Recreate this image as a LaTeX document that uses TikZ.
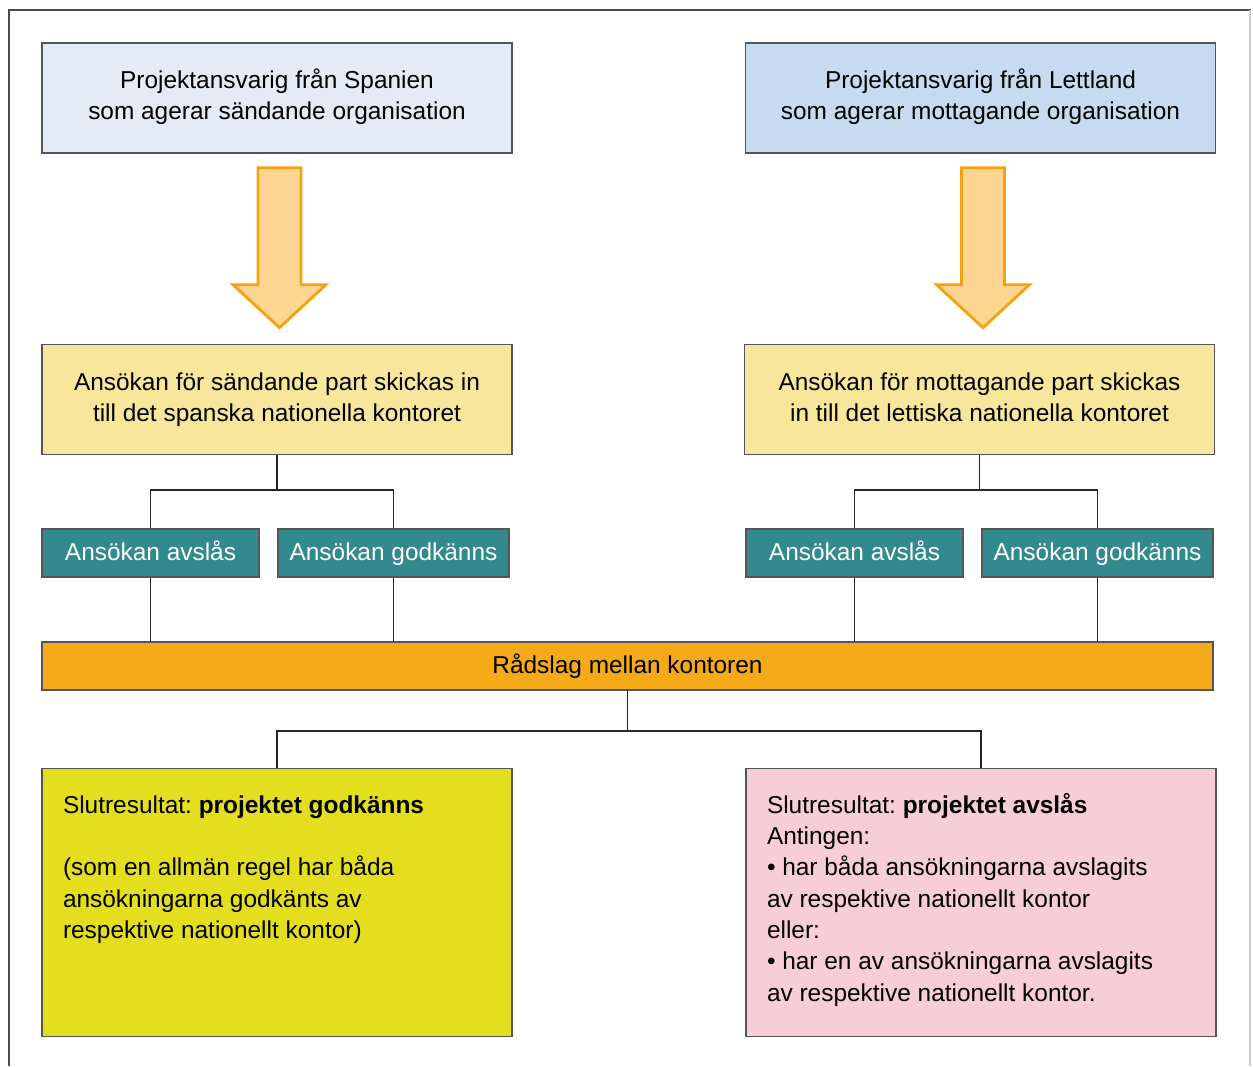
\documentclass[tikz,border=0pt]{standalone}
\usepackage{fontspec}
\setmainfont{Liberation Sans}
\usepackage{xcolor}
\usepackage{tikz}
\usetikzlibrary{positioning, calc}
\definecolor{sendblue}{HTML}{E3ECF6}
\definecolor{recvblue}{HTML}{C6DBF1}
\definecolor{appyellow}{HTML}{F8E79B}
\definecolor{decteal}{HTML}{338A8E}
\definecolor{arrowfill}{HTML}{FCD591}
\definecolor{arroworange}{HTML}{F3A30F}
\definecolor{boardorange}{HTML}{F5AA17}
\definecolor{okyellow}{HTML}{E3DF1E}
\definecolor{nopink}{HTML}{F7CED8}
\definecolor{edgegray}{HTML}{555555}
\tikzstyle{origin} = [rectangle, minimum width=9.4cm, minimum height=2.2cm, align=center, draw=edgegray, line width=0.8pt]
\tikzstyle{appbox} = [rectangle, minimum width=9.4cm, minimum height=2.2cm, align=center, draw=edgegray, line width=0.8pt, fill=appyellow]
\tikzstyle{decision} = [rectangle, minimum height=0.96cm, text height=11.5pt, text depth=3pt, text=white, draw=edgegray, line width=0.8pt, fill=decteal]
\tikzstyle{boardbar} = [rectangle, minimum width=23.42cm, minimum height=0.96cm, draw=edgegray, line width=0.8pt, fill=boardorange]
\tikzstyle{result} = [rectangle, inner xsep=0.42cm, inner ysep=0.46cm, draw=edgegray, line width=0.8pt]
\tikzstyle{link} = [line width=1.1pt, draw=black!85]
\tikzstyle{bigarrow} = [line width=1.6pt, draw=arroworange, fill=arrowfill, line join=miter]
\frenchspacing

\begin{document}
\begin{tikzpicture}[font=\fontsize{13.9pt}{17.8pt}\selectfont]

\useasboundingbox (0,0) rectangle (25.06,-21.32);
\draw [line width=1.2pt, draw=black!70] (0.18,-21.32) -- (0.18,-0.2) -- (25.02,-0.2);
\draw [line width=0.8pt, draw=gray!40] (25.0,-0.2) -- (25.0,-21.32);

\node (spain) [origin, fill=sendblue] at (5.54,-1.96) {\strut Projektansvarig från Spanien\\som agerar sändande organisation\strut};
\node (latvia) [origin, fill=recvblue] at (19.61,-1.96) {\strut Projektansvarig från Lettland\\som agerar mottagande organisation\strut};

\node (sendapp) [appbox, below=3.8cm of spain] {\strut Ansökan för sändande part skickas in\\till det spanska nationella kontoret\strut};
\node (recvapp) [appbox, below=3.8cm of latvia, xshift=-0.02cm] {\strut Ansökan för mottagande part skickas\\in till det lettiska nationella kontoret\strut};

\node (sendno) [decision, minimum width=4.34cm, below=1.46cm of sendapp, xshift=-2.53cm] {Ansökan avslås};
\node (sendyes) [decision, minimum width=4.62cm, below=1.46cm of sendapp, xshift=2.33cm] {Ansökan godkänns};
\node (recvno) [decision, minimum width=4.34cm, below=1.46cm of recvapp, xshift=-2.5cm] {Ansökan avslås};
\node (recvyes) [decision, minimum width=4.62cm, below=1.46cm of recvapp, xshift=2.36cm] {Ansökan godkänns};

\node (board) [boardbar] at (12.55,-13.32) {Rådslag mellan kontoren};

\node (approved) [result, fill=okyellow, below=1.54cm of board, xshift=-7.01cm] {\parbox[c][4.44cm][t]{8.56cm}{\raggedright
\strut Slutresultat: \textbf{projektet godkänns}\\[17.8pt]
(som en allmän regel har båda\\
ansökningarna godkänts av\\
respektive nationellt kontor)}};
\node (rejected) [result, fill=nopink, below=1.54cm of board, xshift=7.07cm] {\parbox[c][4.44cm][t]{8.56cm}{\raggedright
\strut Slutresultat: \textbf{projektet avslås}\\
Antingen:\\
• har båda ansökningarna avslagits\\
av respektive nationellt kontor\\
eller:\\
• har en av ansökningarna avslagits\\
av respektive nationellt kontor.}};

% block arrows
\foreach \src in {spain, latvia}
  \draw [bigarrow] ($(\src.south)+(-0.38,-0.28)$) -- ++(0.86,0) -- ++(0,-2.34) -- ++(0.5,0)
    -- ++(-0.93,-0.86) -- ++(-0.93,0.86) -- ++(0.5,0) -- cycle;

\draw [link] (sendapp.south) -- ++(0,-0.7) -| (sendno.north);
\draw [link] (sendapp.south) ++(0,-0.7) -| (sendyes.north);
\draw [link] (recvapp.south) -- ++(0,-0.7) -| (recvno.north);
\draw [link] (recvapp.south) ++(0,-0.7) -| (recvyes.north);

\foreach \d in {sendno, sendyes, recvno, recvyes}
  \draw [link] (\d.south) -- (\d.south |- board.north);

\draw [link] (board.south) -- ++(0,-0.8) -| (approved.north);
\draw [link] (board.south) ++(0,-0.8) -| (rejected.north);

\end{tikzpicture}
\end{document}
